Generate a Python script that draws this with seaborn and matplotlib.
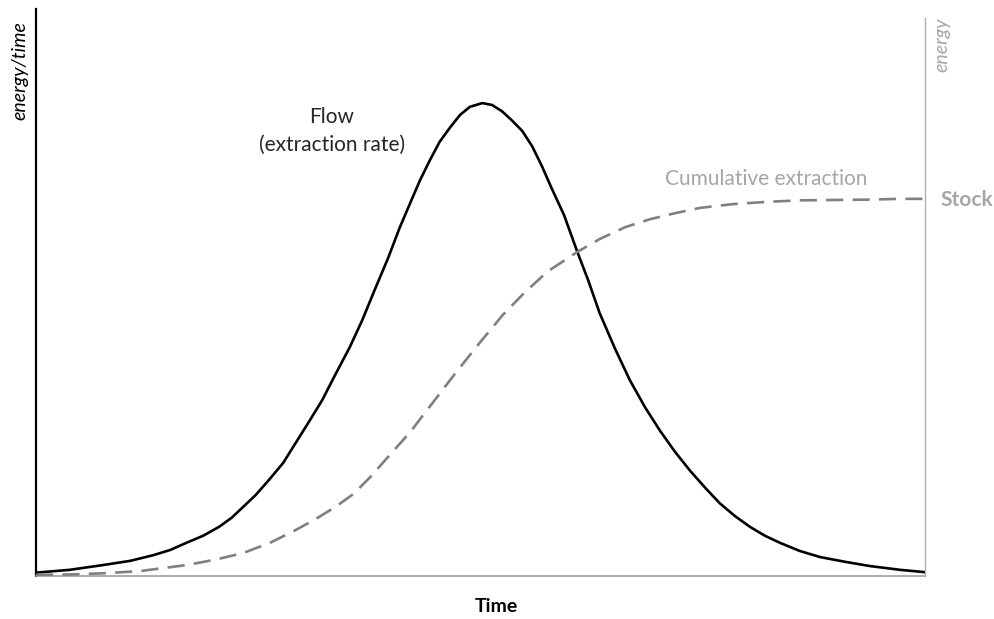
import numpy as np
import pandas as pd
import matplotlib.pyplot as plt
import seaborn as sns

# flow (extraction rate), peak = 100
flow_time = [0, 3.8, 7.5, 10.6, 13.2, 15.1, 16.9, 18.8, 20.6, 22.0, 23.3, 24.7, 26.2, 27.8,
             29.2, 30.7, 32.2, 33.7, 35.3, 36.7, 38.1, 39.6, 40.9, 42.1, 43.2, 44.3, 45.4,
             46.6, 47.7, 48.8, 50.2, 51.3, 52.4, 53.5, 54.7, 55.8, 56.9, 58.0, 59.4, 60.9,
             62.1, 63.4, 65.1, 66.8, 68.5, 70.2, 71.9, 73.6, 75.3, 76.9, 78.6, 80.3, 82.0,
             83.7, 85.9, 88.2, 91.0, 93.8, 97.2, 100]
flow_value = [0.7, 1.3, 2.3, 3.2, 4.4, 5.5, 7.0, 8.5, 10.4, 12.3, 14.6, 17.1, 20.3, 23.9,
              28.1, 32.6, 37.2, 42.7, 48.4, 54.1, 60.5, 67.2, 73.6, 78.9, 83.7, 87.9, 91.8,
              94.9, 97.5, 99.2, 100, 99.6, 98.3, 96.4, 94.1, 90.9, 86.7, 82.0, 76.3, 68.5,
              62.6, 55.6, 48.2, 41.4, 35.7, 30.7, 26.2, 22.2, 18.6, 15.4, 12.7, 10.4, 8.5,
              7.0, 5.3, 4.0, 3.0, 2.1, 1.3, 0.8]

# cumulative extraction, stock = 100
cum_time = [0, 3.8, 7.5, 11.7, 16.9, 20.1, 23.3, 26.3, 29.2, 31.5, 33.7, 35.7, 37.6, 39.8,
            42.1, 44.7, 47.1, 49.9, 52.5, 54.8, 57.5, 60.9, 63.4, 66.3, 69.1, 71.9, 74.7,
            78.4, 82.2, 85.9, 89.7, 93.8, 97.2, 100]
cum_value = [0.3, 0.4, 0.7, 1.3, 2.9, 4.3, 6.1, 8.8, 12.2, 15.2, 18.4, 21.8, 26.3, 32.2,
             38.3, 46.3, 53.7, 62.0, 69.4, 75.0, 80.9, 86.2, 89.6, 92.8, 94.9, 96.5, 97.9,
             98.9, 99.5, 99.9, 100, 100.1, 100.3, 100.3]

flow = pd.DataFrame({'time': flow_time, 'value': flow_value})
cum = pd.DataFrame({'time': cum_time, 'value': cum_value})

sns.set_style('white')
plt.rcParams['font.family'] = ['Lato', 'DejaVu Sans']

fig = plt.figure(figsize=(9.94, 6.19), dpi=100)
ax = fig.add_axes([0.0362, 0.0695, 0.8944, 0.916])
ax2 = ax.twinx()

sns.lineplot(data=flow, x='time', y='value', ax=ax, color='black', linewidth=1.9)
sns.lineplot(data=cum, x='time', y='value', ax=ax2, color='#808080', linewidth=1.9,
             linestyle=(0, (6.5, 3.5)))

ax.set_xlim(0, 100)
ax.set_ylim(0, 119.9)
ax2.set_ylim(0, 150.8)

for a in (ax, ax2):
    a.set_xlabel('')
    a.set_ylabel('')
    a.set_xticks([])
    a.set_yticks([])
    for s in a.spines.values():
        s.set_visible(False)

ax.spines['left'].set_visible(True)
ax.spines['left'].set_color('black')
ax.spines['left'].set_linewidth(1.6)
ax.spines['bottom'].set_visible(True)
ax.spines['bottom'].set_color('#a0a0a0')
ax.spines['bottom'].set_linewidth(1.2)
ax2.spines['right'].set_visible(True)
ax2.spines['right'].set_color('#b0b0b0')
ax2.spines['right'].set_linewidth(1.0)
ax2.spines['right'].set_bounds(0, 148.5)

# labels
fig.text(20 / 994, 1 - 71 / 619, 'energy/time', rotation=90, style='italic',
         fontsize=14, ha='center', va='center', color='black')
fig.text(942 / 994, 1 - 45 / 619, 'energy', rotation=90, style='italic',
         fontsize=14, ha='center', va='center', color='#a6a6a6')
fig.text(496 / 994, 1 - 606 / 619, 'Time', fontweight='bold',
         fontsize=14, ha='center', va='center', color='black')
fig.text(332 / 994, 1 - 117 / 619, 'Flow', fontsize=15, ha='center', va='center')
fig.text(332 / 994, 1 - 145 / 619, '(extraction rate)', fontsize=15, ha='center', va='center')
fig.text(766 / 994, 1 - 179 / 619, 'Cumulative extraction', fontsize=15,
         ha='center', va='center', color='#a6a6a6')
fig.text(940 / 994, 1 - 200 / 619, 'Stock', fontsize=15, fontweight='bold',
         ha='left', va='center', color='#a6a6a6')

plt.savefig('out.png', dpi=100)
